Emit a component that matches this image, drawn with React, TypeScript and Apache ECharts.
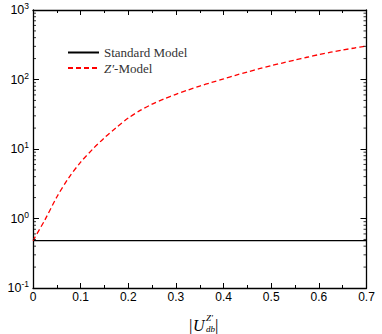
import React, { useEffect, useRef } from "react";
import * as echarts from "echarts";

const xValues = [0, 0.025, 0.05, 0.075, 0.1, 0.125, 0.15, 0.175, 0.2, 0.225, 0.25, 0.275, 0.3, 0.325, 0.35, 0.375, 0.4, 0.425, 0.45, 0.475, 0.5, 0.525, 0.55, 0.575, 0.6, 0.625, 0.65, 0.675, 0.7];
const zPrimeValues = [0.48, 0.955, 2.04, 3.85, 6.46, 9.9, 14.5, 20.4, 27.9, 35.9, 44.2, 52.5, 61.2, 70.5, 80.4, 90.8, 102, 115, 128, 143, 158, 174, 191, 209, 228, 247, 266, 284, 303];
const smX = [0, 0.7];
const smValues = [0.48, 0.48];
const seriesNames = ["Standard Model", "Z′-Model"];
const xRange = [0, 0.7];
const yMinorTicks: number[] = [];
[0.1, 1, 10, 100].forEach((d) => {
  for (let m = 2; m <= 9; m++) yMinorTicks.push(+(m * d).toPrecision(3));
});

export default function App() {
  const ref = useRef<HTMLDivElement>(null);
  useEffect(() => {
    if (!ref.current) return;
    const chart = echarts.init(ref.current, undefined, { renderer: "svg" });
    const axisLine = { show: true, onZero: false, lineStyle: { color: "#000", width: 1.3 } };
    const sans = "Liberation Sans, Arial, sans-serif";
    const serif = "Liberation Serif, Times New Roman, serif";
    const tickMarks = (xv: number, off: number) => ({
      type: "scatter",
      silent: true,
      clip: false,
      symbol: "rect",
      symbolSize: [3, 1],
      symbolOffset: [off, 0],
      itemStyle: { color: "#000" },
      data: yMinorTicks.map((v) => [xv, v]),
      z: 5,
    });
    chart.setOption({
      animation: false,
      backgroundColor: "#fff",
      grid: { left: 33, right: 15.5, top: 10, bottom: 46, outerBoundsMode: "none" },
      legend: {
        orient: "vertical",
        left: 62,
        top: 41,
        itemWidth: 31,
        itemHeight: 12,
        itemGap: 2.5,
        itemStyle: { opacity: 0 },
        data: seriesNames,
        textStyle: { fontFamily: serif, fontSize: 13, lineHeight: 13, color: "#333", rich: { i: { fontFamily: serif, fontSize: 13, lineHeight: 13, fontStyle: "italic", color: "#333" } } },
        formatter: (name: string) => (name === "Z′-Model" ? "{i|Z′}-Model" : name),
      },
      xAxis: [
        {
          type: "value",
          min: xRange[0],
          max: xRange[1],
          interval: 0.1,
          axisLine,
          axisTick: { show: true, inside: true, length: 5, lineStyle: { color: "#000" } },
          minorTick: { show: true, splitNumber: 2, length: 3, lineStyle: { color: "#000" } },
          splitLine: { show: false },
          axisLabel: {
            fontFamily: sans,
            fontSize: 12,
            color: "#000",
            margin: 3,
            formatter: (v: number) => (v === 0 ? "0" : v.toFixed(1)),
          },
        },
        {
          type: "value",
          position: "top",
          min: xRange[0],
          max: xRange[1],
          interval: 0.1,
          axisLine,
          axisTick: { show: true, inside: true, length: 5, lineStyle: { color: "#000" } },
          minorTick: { show: true, splitNumber: 2, length: 3, lineStyle: { color: "#000" } },
          splitLine: { show: false },
          axisLabel: { show: false },
        },
      ],
      yAxis: [
        {
          type: "log",
          logBase: 10,
          min: 0.1,
          max: 1000,
          axisLine,
          axisTick: { show: true, inside: true, length: 6, lineStyle: { color: "#000" } },
          splitLine: { show: false },
          axisLabel: {
            color: "#000",
            margin: 4,
            formatter: (v: number) => `{b|10}{e|${Math.round(Math.log10(v))}}`,
            rich: {
              b: { fontFamily: sans, fontSize: 12.5, color: "#000" },
              e: { fontFamily: sans, fontSize: 8.5, color: "#000", padding: [0, 0, 8, 0] },
            },
          },
        },
        {
          type: "log",
          logBase: 10,
          min: 0.1,
          max: 1000,
          position: "right",
          axisLine,
          axisTick: { show: true, inside: true, length: 6, lineStyle: { color: "#000" } },
          splitLine: { show: false },
          axisLabel: { show: false },
        },
      ],
      graphic: [
        { type: "text", x: 189, y: 325, style: { text: "|", font: "17px Liberation Serif", fill: "#000", verticalAlign: "middle" } },
        { type: "text", x: 193, y: 325, style: { text: "U", font: "italic 16px Liberation Serif", fill: "#000", verticalAlign: "middle" } },
        { type: "text", x: 206, y: 317.5, style: { text: "Z′", font: "italic 9px Liberation Serif", fill: "#000", verticalAlign: "middle" } },
        { type: "text", x: 206, y: 328.5, style: { text: "db", font: "italic 9px Liberation Serif", fill: "#000", verticalAlign: "middle" } },
        { type: "text", x: 215, y: 325, style: { text: "|", font: "17px Liberation Serif", fill: "#000", verticalAlign: "middle" } },
      ],
      series: [
        {
          name: seriesNames[0],
          type: "line",
          symbol: "none",
          data: smX.map((x, i) => [x, smValues[i]]),
          lineStyle: { color: "#000", width: 1.3 },
          itemStyle: { color: "#000" },
        },
        {
          name: seriesNames[1],
          type: "line",
          symbol: "none",
          smooth: 0.3,
          data: xValues.map((x, i) => [x, zPrimeValues[i]]),
          lineStyle: { color: "#ff0000", width: 1.3, type: [5, 3] },
          itemStyle: { color: "#ff0000" },
        },
        tickMarks(xRange[0], 1.5),
        tickMarks(xRange[1], -1.5),
      ],
    });
    return () => chart.dispose();
  }, []);
  return <div ref={ref} style={{ position: "absolute", left: 0, top: 0, width: 382, height: 334 }} />;
}
